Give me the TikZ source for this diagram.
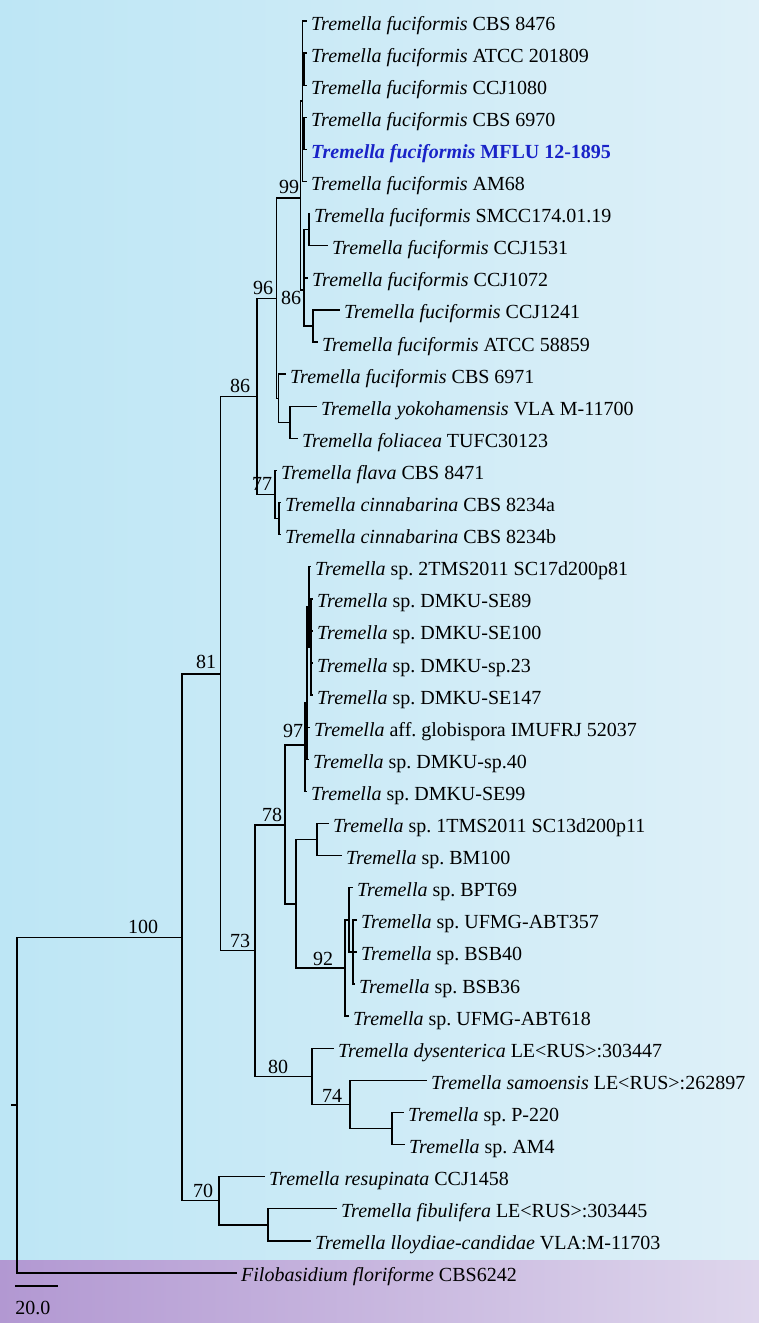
\documentclass[tikz,border=0pt]{standalone}
\usepackage{fontspec}
\setmainfont{Liberation Serif}
\frenchspacing

\definecolor{bgleft}{RGB}{189,230,245}
\definecolor{bgright}{RGB}{222,240,248}
\definecolor{bandleft}{RGB}{178,152,210}
\definecolor{bandright}{RGB}{222,214,236}
\definecolor{mflublue}{RGB}{25,35,200}

\newcommand{\tf}{\textit{Tremella fuciformis}}
\newcommand{\tsp}{\textit{Tremella} sp.}

\begin{document}
\begin{tikzpicture}[x=1pt, y=-1pt,
  leaf/.style={anchor=west, inner xsep=5pt, inner ysep=0pt, text height=18pt, text depth=0pt, font=\fontsize{20}{24}\selectfont},
  boot/.style={inner sep=0pt, font=\fontsize{20}{24}\selectfont},
  branch/.style={line width=1.4pt, line cap=rect, black}]

  % Background panels
  \useasboundingbox (0,0) rectangle (759,1323);
  \shade[left color=bgleft, right color=bgright] (0,0) rectangle (759,1260);
  \shade[left color=bandleft, right color=bandright] (0,1260) rectangle (759,1323);

  % Taxa (row n sits at y = 21 + 32.1 (n-1))
  \foreach \n/\xe/\lab in {
      1/306/{\tf{} CBS 8476},
      2/306/{\tf{} ATCC 201809},
      3/306/{\tf{} CCJ1080},
      4/306/{\tf{} CBS 6970},
      5/306/{\color{mflublue}\bfseries\tf{} MFLU 12-1895},
      6/306/{\tf{} AM68},
      7/309/{\tf{} SMCC174.01.19},
      8/327/{\tf{} CCJ1531},
      9/307/{\tf{} CCJ1072},
      10/339/{\tf{} CCJ1241},
      11/317/{\tf{} ATCC 58859},
      12/285/{\tf{} CBS 6971},
      13/316/{\textit{Tremella yokohamensis} VLA M-11700},
      14/297/{\textit{Tremella foliacea} TUFC30123},
      15/276/{\textit{Tremella flava} CBS 8471},
      16/280/{\textit{Tremella cinnabarina} CBS 8234a},
      17/280/{\textit{Tremella cinnabarina} CBS 8234b},
      18/310/{\tsp{} 2TMS2011 SC17d200p81},
      19/312/{\tsp{} DMKU-SE89},
      20/312/{\tsp{} DMKU-SE100},
      21/312/{\tsp{} DMKU-sp.23},
      22/312/{\tsp{} DMKU-SE147},
      23/309/{\textit{Tremella} aff. globispora IMUFRJ 52037},
      24/308/{\tsp{} DMKU-sp.40},
      25/306/{\tsp{} DMKU-SE99},
      26/328/{\tsp{} 1TMS2011 SC13d200p11},
      27/341/{\tsp{} BM100},
      28/352/{\tsp{} BPT69},
      29/356/{\tsp{} UFMG-ABT357},
      30/356/{\tsp{} BSB40},
      31/354/{\tsp{} BSB36},
      32/348/{\tsp{} UFMG-ABT618},
      33/333/{\textit{Tremella dysenterica} LE<RUS>:303447},
      34/426/{\textit{Tremella samoensis} LE<RUS>:262897},
      35/403/{\tsp{} P-220},
      36/404/{\tsp{} AM4},
      37/264/{\textit{Tremella resupinata} CCJ1458},
      38/336/{\textit{Tremella fibulifera} LE<RUS>:303445},
      39/310/{\textit{Tremella lloydiae-candidae} VLA:M-11703},
      40/236/{\textit{Filobasidium floriforme} CBS6242}} {
    \node[leaf] (l\n) at (\xe, {21+32.1*(\n-1)}) {\lab};
  }

  % Internal nodes
  \coordinate (rootstub) at (12,1105);
  \coordinate (nRoot) at (17,1105);
  \coordinate (n100) at (182,937.3);
  \coordinate (n81) at (220.7,673.8);
  \coordinate (n86) at (257,396.5);
  \coordinate (n96) at (276.7,298.5);
  \coordinate (n99) at (300.7,198);
  \coordinate (nP) at (302.5,101);
  \coordinate (P1) at (304,69.2);
  \coordinate (P2) at (304,133.4);
  \coordinate (n86b) at (304,290);
  \coordinate (nSM) at (309,229.6);
  \coordinate (nCC) at (313,326);
  \coordinate (nC) at (278.3,398.2);
  \coordinate (nYF) at (290,422.3);
  \coordinate (n77) at (275,494.5);
  \coordinate (nCi) at (279,518.6);
  \coordinate (n73) at (255,950.6);
  \coordinate (n78) at (285,825);
  \coordinate (n97) at (305,745);
  \coordinate (nU) at (307,703);
  \coordinate (nV) at (309,607);
  \coordinate (nW) at (311,647);
  \coordinate (nB) at (296,903.8);
  \coordinate (nTB) at (317,839.6);
  \coordinate (n92) at (345,968);
  \coordinate (nX) at (349,920);
  \coordinate (nY) at (353,952);
  \coordinate (n80) at (312,1076.3);
  \coordinate (n74) at (350,1104.4);
  \coordinate (nPA) at (392,1128.5);
  \coordinate (n70) at (219,1200.7);
  \coordinate (nFL) at (268,1224.8);

  % Branches
  \draw[branch] (rootstub) -- (nRoot);
  \foreach \p/\c in {nRoot/n100, nRoot/l40.west, n100/n81, n100/n70,
      n81/n86, n81/n73, n86/n96, n86/n77, n96/n99, n96/nC,
      n99/nP, n99/n86b, nP/l1.west, nP/P1, nP/P2, nP/l6.west,
      P1/l2.west, P1/l3.west, P2/l4.west, P2/l5.west,
      n86b/nSM, n86b/l9.west, n86b/nCC, nSM/l7.west, nSM/l8.west,
      nCC/l10.west, nCC/l11.west, nC/l12.west, nC/nYF,
      nYF/l13.west, nYF/l14.west, n77/l15.west, n77/nCi,
      nCi/l16.west, nCi/l17.west, n73/n78, n73/n80,
      n78/n97, n78/nB, n97/nU, n97/l25.west,
      nU/nV, nU/l23.west, nU/l24.west, nV/l18.west, nV/nW,
      nW/l19.west, nW/l20.west, nW/l21.west, nW/l22.west,
      nB/nTB, nB/n92, nTB/l26.west, nTB/l27.west,
      n92/nX, n92/l32.west, nX/l28.west, nX/nY,
      nY/l29.west, nY/l30.west, nY/l31.west,
      n80/l33.west, n80/n74, n74/l34.west, n74/nPA,
      nPA/l35.west, nPA/l36.west, n70/l37.west, n70/nFL,
      nFL/l38.west, nFL/l39.west} {
    \draw[branch] (\p) |- (\c);
  }

  % Bootstrap support
  \node[boot] (b100) at (143,927) {100};
  \node[boot] (b81) at (206,662) {81};
  \node[boot] (b86) at (240,386) {86};
  \node[boot] (b96) at (263,288) {96};
  \node[boot] (b99) at (289,187) {99};
  \node[boot] (b86i) at (291,298) {86};
  \node[boot] (b77) at (262,484) {77};
  \node[boot] (b73) at (240,941) {73};
  \node[boot] (b78) at (272,815) {78};
  \node[boot] (b97) at (293,731) {97};
  \node[boot] (b92) at (323,959) {92};
  \node[boot] (b80) at (278,1067) {80};
  \node[boot] (b74) at (332,1096) {74};
  \node[boot] (b70) at (203,1191) {70};

  % Scale bar
  \coordinate (sbl) at (15,1286);
  \coordinate (sbr) at (58,1286);
  \draw[branch, line cap=butt] (sbl) -- (sbr);
  \node[boot] (sbtxt) at (33,1308) {20.0};
\end{tikzpicture}
\end{document}
